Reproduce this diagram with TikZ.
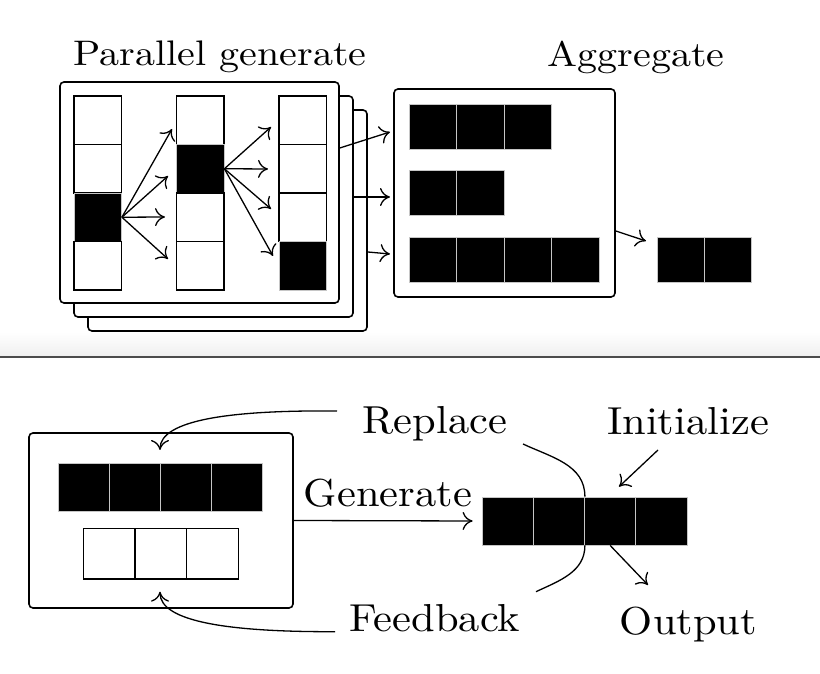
\documentclass[tikz,border=0pt]{standalone}
\usepackage{graphicx}
\usetikzlibrary{arrows.meta,positioning}
\newcommand{\toplbl}[1]{\scalebox{4.0}[3.55]{#1}}
\newcommand{\botlbl}[1]{\scalebox{4.25}[3.9]{#1}}

\begin{document}
\begin{tikzpicture}[x=1pt, y=1pt,
		>={Computer Modern Rightarrow[length=10pt, width=18pt, line width=1.3pt]},
		panel/.style={draw, rounded corners=4pt, fill=white, line width=1.6pt, inner sep=0pt},
		wcell/.style={draw, fill=white, line width=1.3pt, inner sep=0pt, minimum width=47.5pt, minimum height=48.5pt},
		bcell/.style={wcell, fill=black, draw=gray!45, line width=0.8pt},
		link/.style={->, line width=1.3pt},
		cut/.style={line width=1.3pt}]
		
		\useasboundingbox (0,0) rectangle (820,674);
		
		% ---------- Separator ----------
		\shade[top color=white, bottom color=gray!12] (0,318) rectangle (820,342);
		\draw[line width=2.4pt, gray!60!black, line cap=round] (0,317) -- (820,317);
		
		% ---------- Parallel generate: stack of three frames ----------
		\foreach \k in {2,1,0}{
			\node[panel, minimum width=279pt, minimum height=221pt] (stack\k) at (199.5+14*\k,481.5-14*\k) {};
		}
		\node[anchor=base] (ptitle) at (220,608) {\toplbl{Parallel generate}};
		
		% columns of candidate tokens, one black cell per column
		\foreach \c/\xx/\b in {1/97.75/3, 2/200.25/2, 3/302.75/4}{
			\foreach \r in {1,...,4}{
				\pgfmathsetmacro{\yy}{578-(\r-0.5)*48.5}
				\ifnum\r=\b\relax\def\sty{bcell}\else\def\sty{wcell}\fi
				\node[\sty] (c\c-\r) at (\xx,\yy) {};
			}
		}
		
		% fan out from the chosen cells
		\coordinate (f1a) at (172,545); \coordinate (f1b) at (168,498);
		\coordinate (f1c) at (165,457); \coordinate (f1d) at (168,415);
		\coordinate (f2a) at (271,547); \coordinate (f2b) at (268,505);
		\coordinate (f2c) at (271,465); \coordinate (f2d) at (273,418);
		\foreach \t in {a,b,c,d}{
			\draw[link] (c1-3.east) -- (f1\t);
			\draw[link] (c2-2.east) -- (f2\t);
		}
		
		% ---------- Aggregate ----------
		\node[panel, minimum width=221pt, minimum height=208pt] (agg) at (504.5,481) {};
		\node[anchor=base] (atitle) at (636,607.3) {\toplbl{Aggregate}};
		\foreach \r/\yy/\n in {1/547.5/3, 2/481/2, 3/414.5/4}{
			\foreach \k in {1,...,\n}{
				\node[bcell, minimum width=47.6pt, minimum height=45pt] (a\r-\k) at (409+47.6*\k-23.8,\yy) {};
			}
		}
		\coordinate (in1) at (390,542);
		\coordinate (in2) at (390,477);
		\coordinate (in3) at (390,420);
		\draw[link] (stack0.east |- 0,526) -- (in1);
		\draw[link] (stack1.east |- 0,477) -- (in2);
		\draw[link] (stack2.east |- 0,422) -- (in3);
		
		% final answer
		\foreach \k in {1,2}{
			\node[bcell, minimum width=47pt, minimum height=45pt] (o\k) at (657+47*\k-23.5,414.5) {};
		}
		\coordinate (aout) at (646,433);
		\draw[link] (agg.east |- 0,443) -- (aout);
		
		% ---------- Iterative refinement ----------
		\node[panel, minimum width=264pt, minimum height=175pt] (gbox) at (161,153.5) {};
		\foreach \k in {1,...,4}{
			\node[bcell, minimum width=51.2pt, minimum height=48.4pt] (g\k) at (58+51.2*\k-25.6,186.5) {};
		}
		\foreach \k in {1,2,3}{
			\node[wcell, minimum width=51.7pt, minimum height=50.7pt] (w\k) at (83.3+51.7*\k-25.85,120.3) {};
		}
		\foreach \k in {1,...,4}{
			\node[bcell, minimum width=51.25pt, minimum height=48pt] (r\k) at (482+51.25*\k-25.625,153) {};
		}
		
		% labels
		\node[anchor=base] (lrep)  at (435,240)   {\botlbl{Replace}};
		\node[anchor=base] (linit) at (688,239)   {\botlbl{Initialize}};
		\node[anchor=base] (lgen)  at (388,167.3) {\botlbl{Generate}};
		\node[anchor=base] (lfb)   at (435,42)    {\botlbl{Feedback}};
		\node[anchor=base] (lout)  at (688.5,39)  {\botlbl{Output}};
		
		% connectors
		\draw[link] (gbox.east) -- ([xshift=-9pt]r1.west);
		\coordinate (rs) at (337,263);  \coordinate (rt) at (160,224);
		\coordinate (fs) at (335,42.3); \coordinate (ft) at (160,82.3);
		\draw[link] (rs) .. controls (230,264) and (160,254) .. (rt);
		\draw[link] (fs) .. controls (230,42) and (160,52) .. (ft);
		\coordinate (cuttop) at (523,230); \coordinate (cutbot) at (536,82.3);
		\draw[cut] (cuttop) to[out=-25, in=90] (r2.north east);
		\draw[cut] (r2.south east) to[out=-90, in=25] (cutbot);
		\coordinate (is) at (658,224); \coordinate (ot) at (648,89);
		\draw[link] (is) -- (619,187.3);
		\draw[link] (r3.south) -- (ot);
		
	\end{tikzpicture}
\end{document}
